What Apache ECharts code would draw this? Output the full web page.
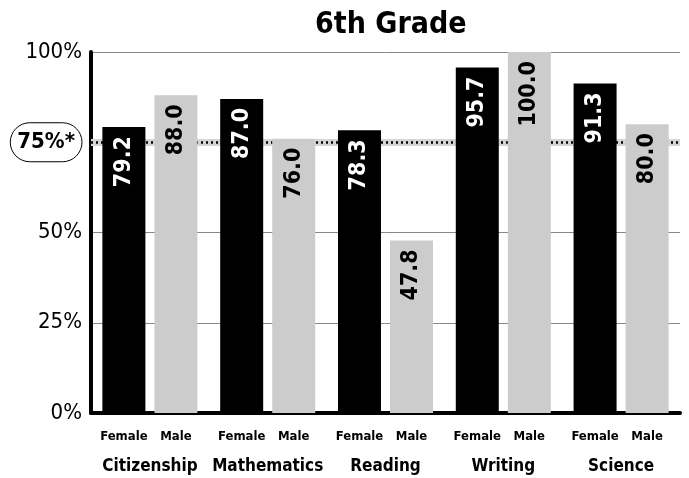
<!DOCTYPE html>
<html>
<head>
<meta charset="utf-8">
<script src="https://cdn.jsdelivr.net/npm/echarts@6/dist/echarts.min.js"></script>
<style>html,body{margin:0;padding:0;background:#fff}#c{width:689px;height:478px}</style>
</head>
<body>
<div id="c"></div>
<script>
var categories = ['Citizenship', 'Mathematics', 'Reading', 'Writing', 'Science'];
var femaleValues = [79.2, 87.0, 78.3, 95.7, 91.3];
var maleValues = [88.0, 76.0, 47.8, 100.0, 80.0];
var yTicks = [0, 25, 50, 75, 100];
var benchmark = 75;
var titleText = '6th Grade';

var NARROW = "'Liberation Sans Narrow', 'DejaVu Sans Condensed', 'Arial Narrow', sans-serif";

var chart = echarts.init(document.getElementById('c'), null, {renderer: 'canvas'});

function barLabel(color) {
  return {
    show: true,
    position: 'insideTop',
    distance: 9,
    rotate: 90,
    align: 'right',
    verticalAlign: 'middle',
    color: color,
    fontFamily: NARROW,
    fontWeight: 'bold',
    fontSize: 23,
    formatter: function (p) { return p.value.toFixed(1); }
  };
}

chart.setOption({
  animation: false,
  backgroundColor: '#fff',
  title: {
    text: titleText,
    left: 310,
    top: 5,
    textStyle: {fontFamily: NARROW, fontWeight: 'bold', fontSize: 30, color: '#000'}
  },
  grid: {left: 91, right: 9, top: 52, bottom: 65, containLabel: false, outerBoundsMode: 'none'},
  xAxis: {
    type: 'category',
    data: categories,
    axisLine: {show: true, lineStyle: {color: '#000', width: 4}},
    axisTick: {show: false},
    axisLabel: {
      margin: 14,
      interval: 0,
      hideOverlap: false,
      formatter: function (v) { return '{f|Female}{m|Male}\n{c|' + v + '}'; },
      rich: {
        f: {width: 52, align: 'center', fontFamily: NARROW, fontWeight: 'bold', fontSize: 13, lineHeight: 20, color: '#000'},
        m: {width: 52, align: 'center', fontFamily: NARROW, fontWeight: 'bold', fontSize: 13, lineHeight: 20, color: '#000'},
        c: {fontFamily: NARROW, fontWeight: 'bold', fontSize: 17, lineHeight: 40, color: '#000'}
      }
    }
  },
  yAxis: {
    type: 'value',
    min: 0,
    max: 100,
    interval: 25,
    axisLine: {show: true, lineStyle: {color: '#000', width: 4}},
    axisTick: {show: false},
    splitLine: {show: true, lineStyle: {color: ['#888', '#888', '#888', 'rgba(0,0,0,0)', '#888'], width: 1}},
    axisLabel: {
      margin: 9,
      color: '#000',
      fontFamily: NARROW,
      fontSize: 22,
      formatter: function (v) { return v === benchmark ? '{o|' + v + '%*}' : v + '%'; },
      rich: {
        o: {
          fontFamily: NARROW, fontWeight: 'bold', fontSize: 22, color: '#000',
          borderColor: '#000', borderWidth: 1, borderRadius: 20,
          padding: [9, 7, 8, 7]
        }
      }
    }
  },
  series: [
    {
      name: 'band',
      type: 'line',
      data: [],
      z: 1,
      silent: true,
      markLine: {
        z: 1,
        silent: true,
        symbol: 'none',
        label: {show: false},
        data: [
          {yAxis: benchmark, lineStyle: {color: '#d4d4d4', width: 7, type: 'solid'}},
          {yAxis: benchmark, lineStyle: {color: '#000', width: 2.5, type: [2, 3]}}
        ]
      }
    },
    {
      name: 'Female',
      type: 'bar',
      z: 3,
      data: femaleValues,
      barWidth: 43,
      barGap: '21%',
      itemStyle: {color: '#000'},
      label: barLabel('#fff')
    },
    {
      name: 'Male',
      type: 'bar',
      z: 3,
      data: maleValues,
      barWidth: 43,
      barGap: '21%',
      itemStyle: {color: '#cccccc'},
      label: barLabel('#000')
    }
  ]
});
</script>
</body>
</html>
